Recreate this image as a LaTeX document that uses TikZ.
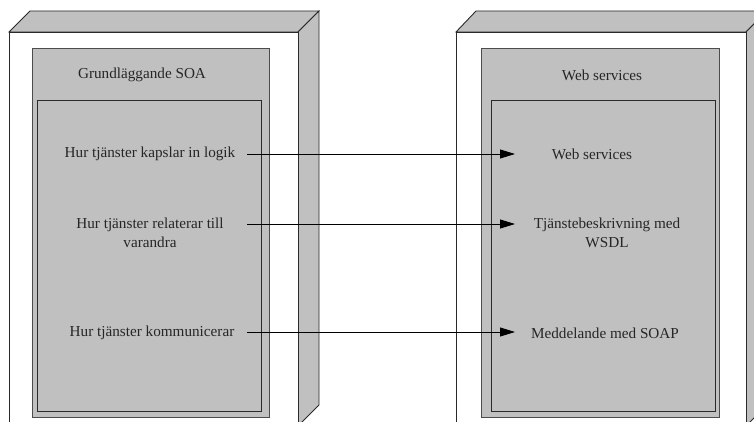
\documentclass[tikz,border=0pt]{standalone}
\usepackage{fontspec}
\setmainfont{Liberation Serif}
\usetikzlibrary{arrows.meta}
\definecolor{boxgray}{HTML}{C0C0C0}
\definecolor{edge}{HTML}{2A2A2A}
\tikzset{
  face/.style={draw=edge, line width=0.9pt, line join=miter},
  txt/.style={font=\fontsize{15.2}{19.5}\selectfont, text=black!85, align=center, inner sep=0pt},
  conn/.style={draw=black, line width=0.9pt, -{Triangle[length=15pt,width=9pt]}}
}
\begin{document}
\begin{tikzpicture}[x=1pt,y=-1pt]
\useasboundingbox (0,0) rectangle (754,422);
\clip (0,0) rectangle (754,422);
% left box
\path[face, fill=boxgray] (9,32) -- (30,11) -- (319,11) -- (298,32) -- cycle;
\path[face, fill=boxgray] (298,32) -- (319,11) -- (319,405) -- (298,426) -- cycle;
\path[face, fill=white] (9,32) rectangle (298,426);
\path[face, fill=boxgray, draw=black!70] (32,48) rectangle (269,417);
\path[face, fill=boxgray] (37,100) rectangle (261,411);
% right box
\path[face, fill=boxgray] (456,32) -- (476,11) -- (767,11) -- (746,32) -- cycle;
\path[face, fill=boxgray] (746,32) -- (767,11) -- (767,405) -- (746,426) -- cycle;
\path[face, fill=white] (456,32) rectangle (746,426);
\path[face, fill=boxgray, draw=black!70] (481,48) rectangle (719,417);
\path[face, fill=boxgray] (491,100) rectangle (715,411);
% titles
\node[txt] (t1) at (142,75) {Grundläggande SOA};
\node[txt] (t2) at (602,75) {Web services};
% left texts
\node[txt] (l1) at (150,154) {Hur tjänster kapslar in logik};
\node[txt] (l2) at (150,233) {Hur tjänster relaterar till\\varandra};
\node[txt] (l3) at (152,333) {Hur tjänster kommunicerar};
% right texts
\node[txt] (r1) at (592,154) {Web services};
\node[txt] (r2) at (607,233) {Tjänstebeskrivning med\\WSDL};
\node[txt] (r3) at (605,333) {Meddelande med SOAP};
% connectors
\coordinate (s1) at (247,154);
\coordinate (e1) at (515,154);
\coordinate (s2) at (247,224);
\coordinate (e2) at (515,224);
\coordinate (s3) at (247,332);
\coordinate (e3) at (515,332);
\draw[conn] (s1) -- (e1);
\draw[conn] (s2) -- (e2);
\draw[conn] (s3) -- (e3);
\end{tikzpicture}
\end{document}
